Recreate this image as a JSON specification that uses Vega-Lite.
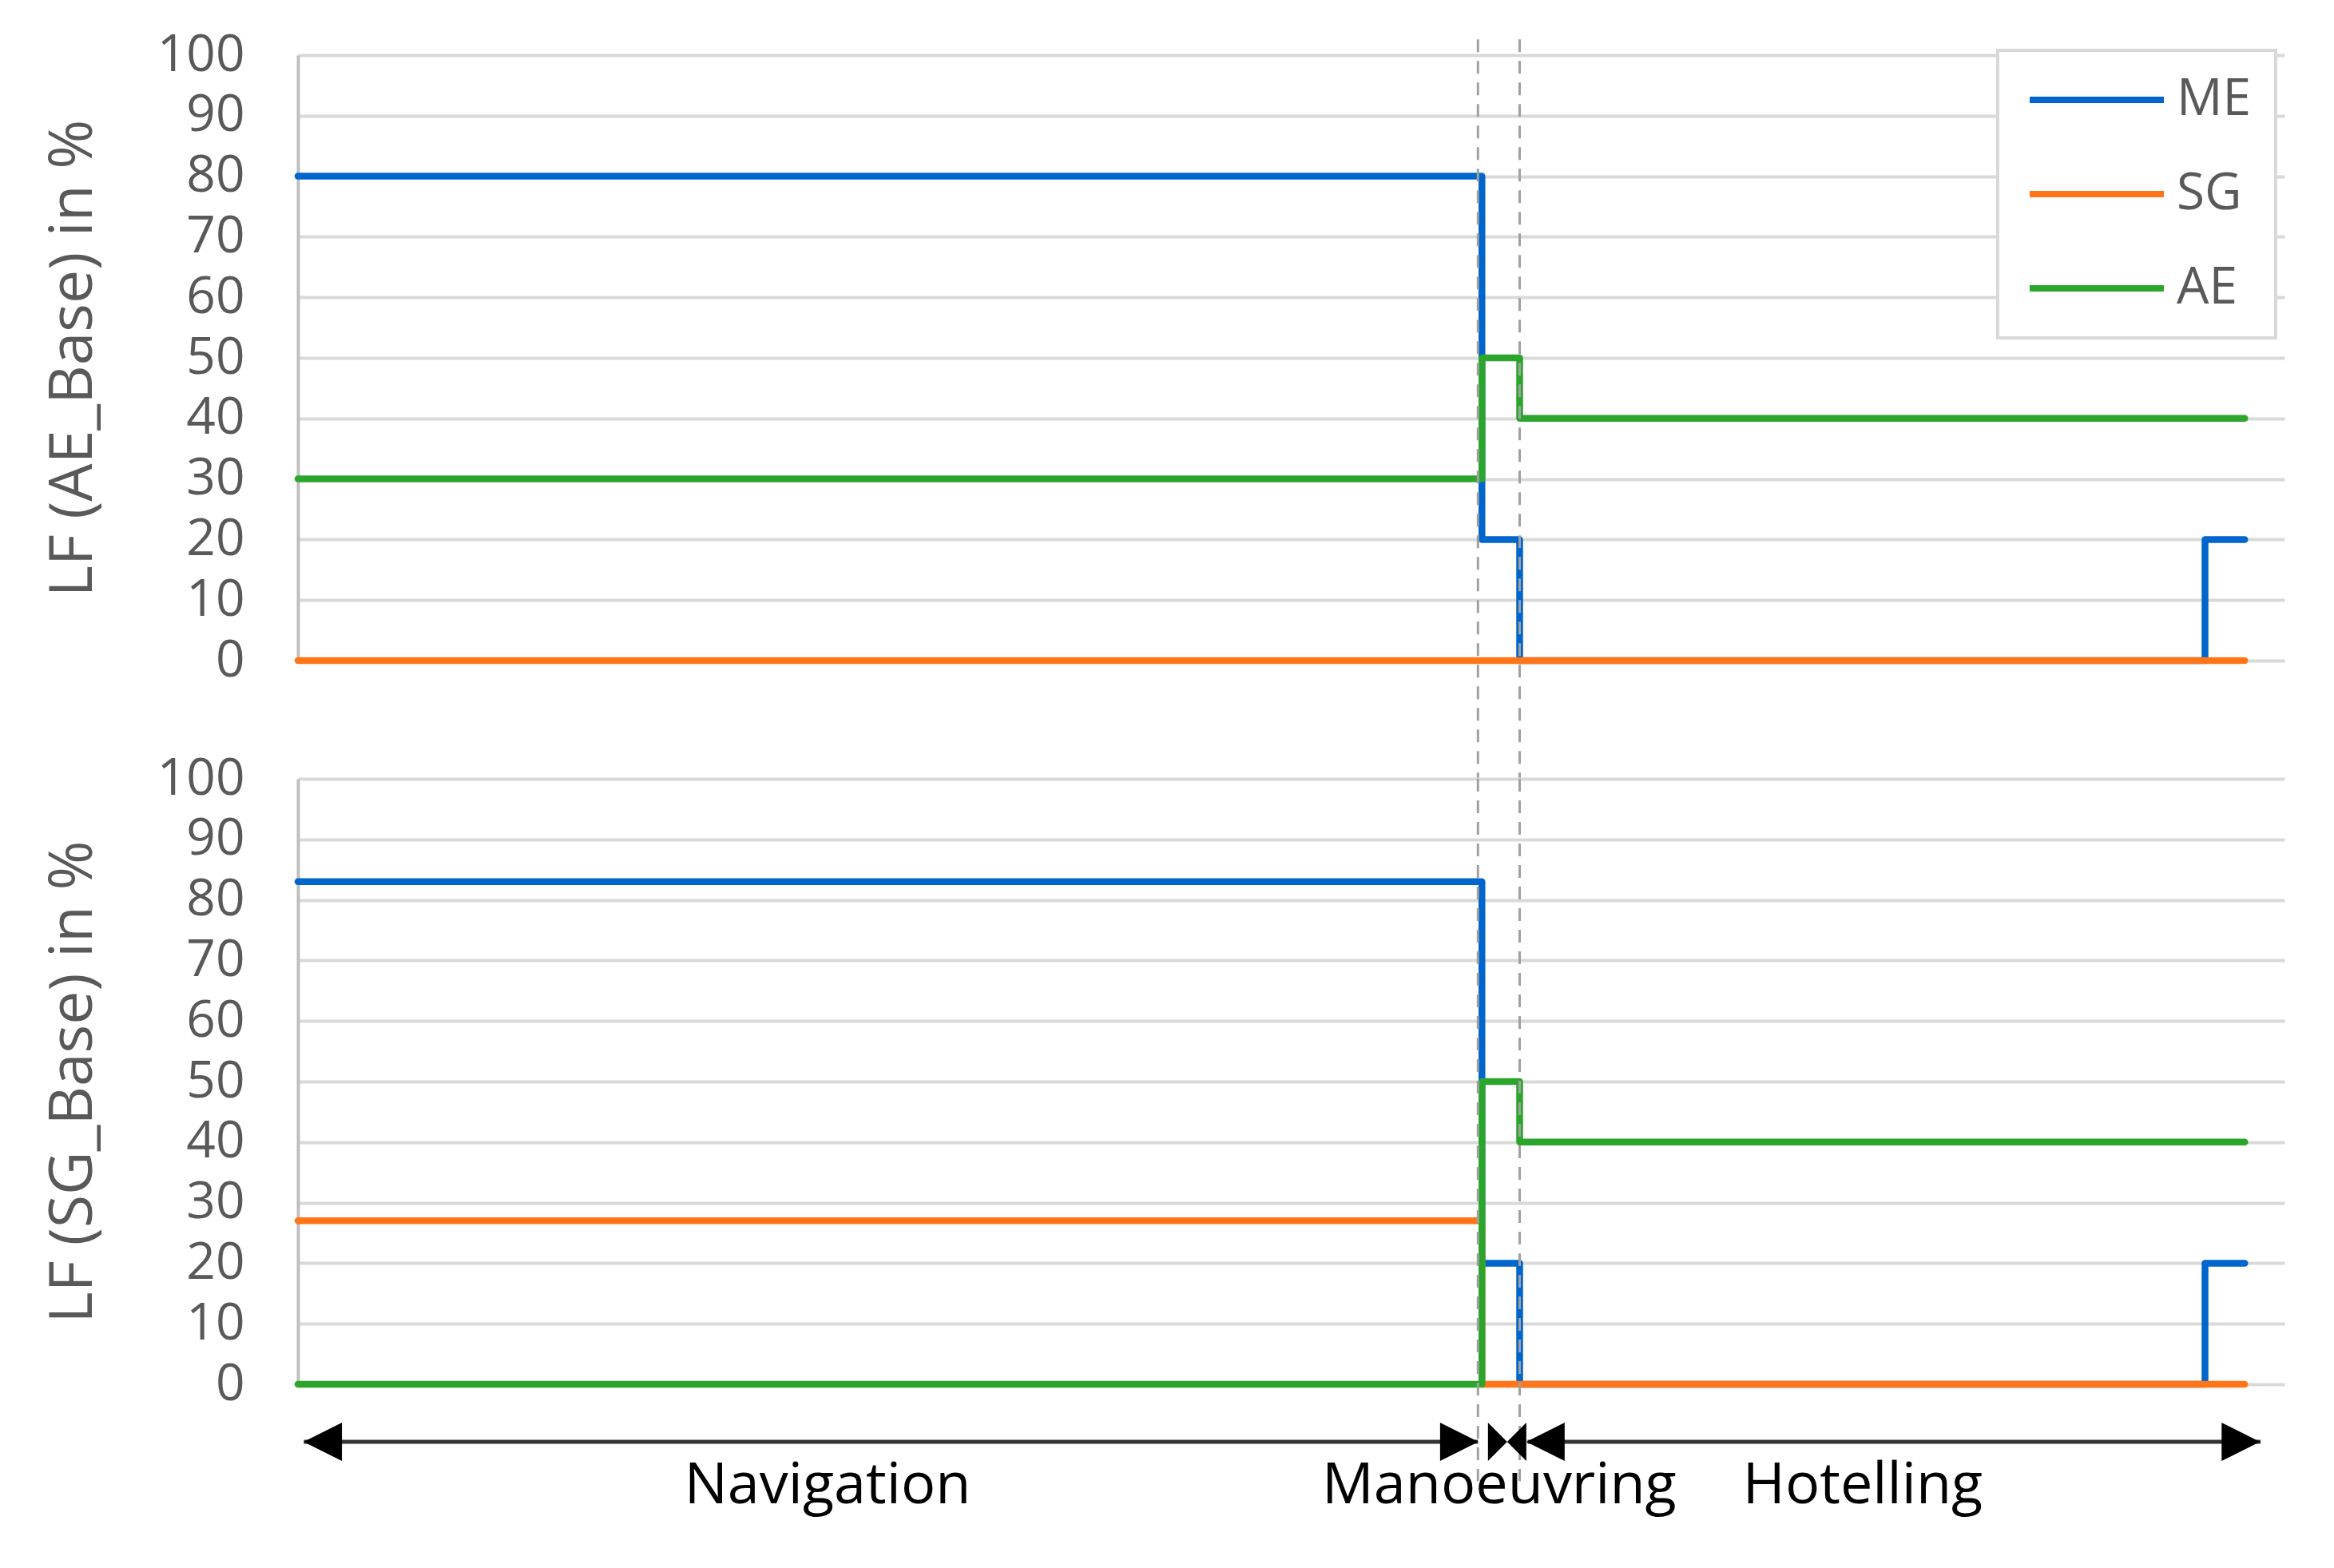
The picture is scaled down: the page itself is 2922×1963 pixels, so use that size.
{
  "$schema": "https://vega.github.io/schema/vega-lite/v6.json",
  "background": "white",
  "padding": {"left": 54, "top": 37, "right": 20, "bottom": 20},
  "bounds": "flush",
  "spacing": 148,
  "datasets": {
    "ae_base": [
      {"engine": "ME", "t": 0, "lf": 80},
      {"engine": "ME", "t": 59.6, "lf": 20},
      {"engine": "ME", "t": 61.5, "lf": 0},
      {"engine": "ME", "t": 96, "lf": 20},
      {"engine": "ME", "t": 98, "lf": 20},
      {"engine": "SG", "t": 0, "lf": 0},
      {"engine": "SG", "t": 98, "lf": 0},
      {"engine": "AE", "t": 0, "lf": 30},
      {"engine": "AE", "t": 59.6, "lf": 50},
      {"engine": "AE", "t": 61.5, "lf": 40},
      {"engine": "AE", "t": 98, "lf": 40}
    ],
    "sg_base": [
      {"engine": "ME", "t": 0, "lf": 83},
      {"engine": "ME", "t": 59.6, "lf": 20},
      {"engine": "ME", "t": 61.5, "lf": 0},
      {"engine": "ME", "t": 96, "lf": 20},
      {"engine": "ME", "t": 98, "lf": 20},
      {"engine": "SG", "t": 0, "lf": 27},
      {"engine": "SG", "t": 59.6, "lf": 0},
      {"engine": "SG", "t": 98, "lf": 0},
      {"engine": "AE", "t": 0, "lf": 0},
      {"engine": "AE", "t": 59.6, "lf": 50},
      {"engine": "AE", "t": 61.5, "lf": 40},
      {"engine": "AE", "t": 98, "lf": 40}
    ],
    "phases": [
      {"t": 59.4},
      {"t": 61.5}
    ],
    "spans": [
      {"phase": "Navigation", "t": 0.3, "t2": 59.4},
      {"phase": "Hotelling", "t": 61.9, "t2": 98.8}
    ],
    "heads": [
      {"dir": "left", "t": 1.25},
      {"dir": "right", "t": 58.46},
      {"dir": "bowtie", "t": 60.87},
      {"dir": "left", "t": 62.8},
      {"dir": "right", "t": 97.8}
    ],
    "labels": [
      {"label": "Navigation", "t": 26.66},
      {"label": "Manoeuvring", "t": 60.47},
      {"label": "Hotelling", "t": 78.77}
    ]
  },
  "resolve": {"scale": {"color": "independent"}, "legend": {"color": "independent"}},
  "vconcat": [
    {
      "width": 2487,
      "height": 758,
      "layer": [
        {
          "data": {"name": "ae_base"},
          "mark": {"type": "line", "interpolate": "step-after", "strokeWidth": 8.5, "strokeCap": "round", "strokeJoin": "round"},
          "encoding": {
            "x": {"field": "t", "type": "quantitative", "scale": {"domain": [0, 100], "nice": false, "zero": false}, "axis": null},
            "y": {"field": "lf", "type": "quantitative", "scale": {"domain": [0, 100], "nice": false},
                  "axis": {"title": "LF (AE_Base) in %", "values": [0, 10, 20, 30, 40, 50, 60, 70, 80, 90, 100]}},
            "color": {"field": "engine", "type": "nominal",
                      "scale": {"domain": ["ME", "SG", "AE"], "range": ["#0066cc", "#ff7518", "#2ca52c"]},
                      "legend": {"orient": "none", "legendX": 2128, "legendY": -6, "title": null,
                                 "symbolType": "stroke", "symbolSize": 28224, "symbolStrokeWidth": 8,
                                 "symbolOffset": 6, "clipHeight": 64,
                                 "labelFontSize": 64, "labelFont": "Open Sans", "labelColor": "#595959",
                                 "labelOffset": 12, "padding": 30, "strokeColor": "#d9d9d9",
                                 "rowPadding": 54, "fillColor": "white"}}
          }
        },
        {
          "data": {"name": "phases"},
          "mark": {"type": "rule", "strokeDash": [16, 11], "strokeWidth": 3, "color": "#a0a0a0", "clip": false},
          "encoding": {
            "x": {"field": "t", "type": "quantitative"},
            "y": {"datum": 102.6, "type": "quantitative"},
            "y2": {"datum": -19.5}
          }
        }
      ]
    },
    {
      "width": 2487,
      "height": 758,
      "layer": [
        {
          "data": {"name": "sg_base"},
          "mark": {"type": "line", "interpolate": "step-after", "strokeWidth": 8.5, "strokeCap": "round", "strokeJoin": "round"},
          "encoding": {
            "x": {"field": "t", "type": "quantitative", "scale": {"domain": [0, 100], "nice": false, "zero": false}, "axis": null},
            "y": {"field": "lf", "type": "quantitative", "scale": {"domain": [0, 100], "nice": false},
                  "axis": {"title": "LF (SG_Base) in %", "values": [0, 10, 20, 30, 40, 50, 60, 70, 80, 90, 100]}},
            "color": {"field": "engine", "type": "nominal",
                      "scale": {"domain": ["ME", "SG", "AE"], "range": ["#0066cc", "#ff7518", "#2ca52c"]},
                      "legend": null}
          }
        },
        {
          "data": {"name": "phases"},
          "mark": {"type": "rule", "strokeDash": [16, 11], "strokeWidth": 3, "color": "#a0a0a0", "clip": false},
          "encoding": {
            "x": {"field": "t", "type": "quantitative"},
            "y": {"datum": 100, "type": "quantitative"},
            "y2": {"datum": -16}
          }
        },
        {
          "data": {"name": "spans"},
          "mark": {"type": "rule", "strokeWidth": 5, "color": "#333333", "clip": false},
          "encoding": {
            "x": {"field": "t", "type": "quantitative"},
            "x2": {"field": "t2"},
            "y": {"datum": -9.5, "type": "quantitative"}
          }
        },
        {
          "data": {"name": "heads"},
          "mark": {"type": "point", "filled": true, "size": 2304, "color": "black", "opacity": 1, "strokeWidth": 0, "clip": false},
          "encoding": {
            "x": {"field": "t", "type": "quantitative"},
            "y": {"datum": -9.5, "type": "quantitative"},
            "shape": {"field": "dir", "type": "nominal", "legend": null,
                      "scale": {"domain": ["left", "right", "bowtie"],
                                "range": ["M-1,0L1,-1L1,1Z", "M1,0L-1,-1L-1,1Z", "M-1,-1L0,0L-1,1ZM1,-1L0,0L1,1Z"]}}
          }
        },
        {
          "data": {"name": "labels"},
          "mark": {"type": "text", "font": "Open Sans", "fontSize": 72, "color": "black", "baseline": "alphabetic", "align": "center", "clip": false},
          "encoding": {
            "x": {"field": "t", "type": "quantitative"},
            "y": {"datum": -19.6, "type": "quantitative"},
            "text": {"field": "label"}
          }
        }
      ]
    }
  ],
  "config": {
    "font": "Open Sans",
    "view": {"stroke": null},
    "axis": {
      "grid": true, "gridColor": "#d9d9d9", "gridWidth": 4,
      "domainColor": "#bfbfbf", "domainWidth": 4,
      "ticks": false,
      "labelFont": "Open Sans", "labelFontSize": 64, "labelColor": "#595959", "labelPadding": 67,
      "titleFont": "Open Sans", "titleFontSize": 75, "titleFontWeight": "normal", "titleColor": "#595959", "titlePadding": 66
    },
    "legend": {"strokeWidth": 4}
  }
}
